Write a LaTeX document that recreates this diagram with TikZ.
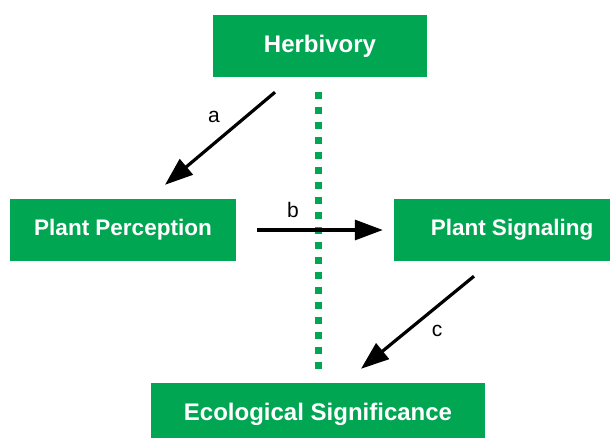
\documentclass[tikz,border=0pt]{standalone}
\usepackage{fontspec}
\setmainfont{Liberation Sans}
\usetikzlibrary{arrows.meta}

\definecolor{boxgreen}{RGB}{0,166,81}
\tikzset{
  greenbox/.style={fill=boxgreen, draw=none, text=white, inner sep=0pt,
    font=\bfseries\fontsize{24}{28}\selectfont},
  plantbox/.style={greenbox, font=\bfseries\fontsize{22.5}{26}\selectfont},
  arrowline/.style={line width=3.2pt, -{Triangle[length=28pt,width=20pt]}},
  steplabel/.style={inner sep=0pt, font=\fontsize{21}{25}\selectfont},
  divider/.style={draw=boxgreen, line width=7pt, dash pattern=on 7pt off 8pt}
}

\begin{document}
\begin{tikzpicture}[x=1pt,y=-1pt]
\useasboundingbox (0,0) rectangle (610,437);
\clip (0,0) rectangle (610,437);
% boxes
\node[greenbox, minimum width=214pt, minimum height=62pt] (herb) at (320,46) {Herbivory};
\node[plantbox, minimum width=226pt, minimum height=62pt] (perc) at (123,230) {Plant Perception};
\node[plantbox, minimum width=236pt, minimum height=62pt] (sign) at (512,230) {Plant Signaling};
\node[greenbox, minimum width=334pt, minimum height=62pt] (eco) at (318,414) {Ecological Significance};
% dotted divider
\draw[divider] (318.5,92) -- (318.5,370);
% arrows
\draw[arrowline] ([shift={(-45,15)}]herb.south) -- ([shift={(42,-14)}]perc.north);
\draw[arrowline] ([shift={(21,0)}]perc.east) -- ([shift={(-11,0)}]sign.west);
\draw[arrowline] ([shift={(-38,15)}]sign.south) -- ([shift={(43,-14)}]eco.north);
% labels
\node[steplabel] (la) at (214,117) {a};
\node[steplabel] (lb) at (293,210) {b};
\node[steplabel] (lc) at (437,331) {c};
\end{tikzpicture}
\end{document}
